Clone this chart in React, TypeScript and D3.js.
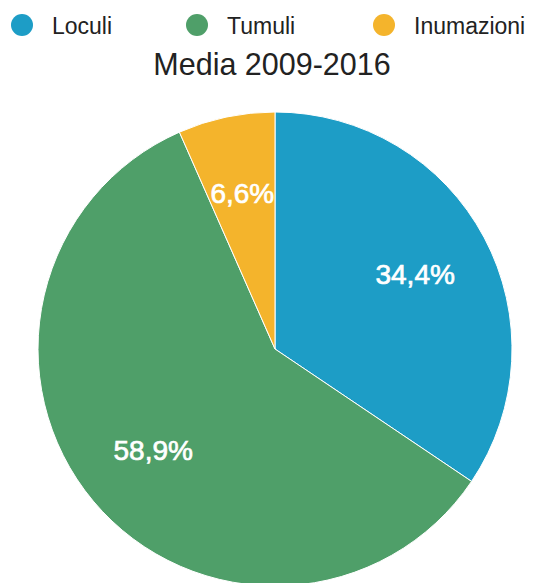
import React from "react";
import * as d3 from "d3";

const categories = ["Loculi", "Tumuli", "Inumazioni"];
const values = [34.4, 58.9, 6.6];
const labels = ["34,4%", "58,9%", "6,6%"];
const colors = ["#1d9dc6", "#4f9f69", "#f4b42c"];
const title = "Media 2009-2016";

const W = 537;
const H = 583;

export default function App() {
  const cx = 275;
  const cy = 349;
  const r = 237;
  const pie = d3.pie<number>().sort(null).value((d) => d)(values);
  const arc = d3.arc<d3.PieArcDatum<number>>().innerRadius(0).outerRadius(r);
  const labelArc = d3.arc<d3.PieArcDatum<number>>().innerRadius(r * 0.67).outerRadius(r * 0.67);
  const legendX = [22, 197, 384];
  const font = "'Liberation Sans', Arial, Helvetica, sans-serif";
  return (
    <svg width={W} height={H} style={{ position: "absolute", left: 0, top: 0, background: "#fff" }}>
      {categories.map((c, i) => (
        <g key={c}>
          <circle cx={legendX[i]} cy={25} r={11} fill={colors[i]} />
          <text x={legendX[i] + 30} y={34} fontFamily={font} fontSize={23} fill="#222">
            {c}
          </text>
        </g>
      ))}
      <text x={272} y={75} textAnchor="middle" fontFamily={font} fontSize={30.5} fill="#222">
        {title}
      </text>
      <g transform={`translate(${cx},${cy})`}>
        {pie.map((p, i) => (
          <path key={i} d={arc(p) || ""} fill={colors[i]} stroke="#fff" strokeWidth={1} />
        ))}
        {pie.map((p, i) => {
          const [x, y] = labelArc.centroid(p);
          return (
            <text
              key={"l" + i}
              x={x}
              y={y}
              textAnchor="middle"
              dominantBaseline="central"
              fontFamily={font}
              fontSize={28}
              fill="#fff"
              stroke="#fff"
              strokeWidth={0.7}
            >
              {labels[i]}
            </text>
          );
        })}
      </g>
    </svg>
  );
}
